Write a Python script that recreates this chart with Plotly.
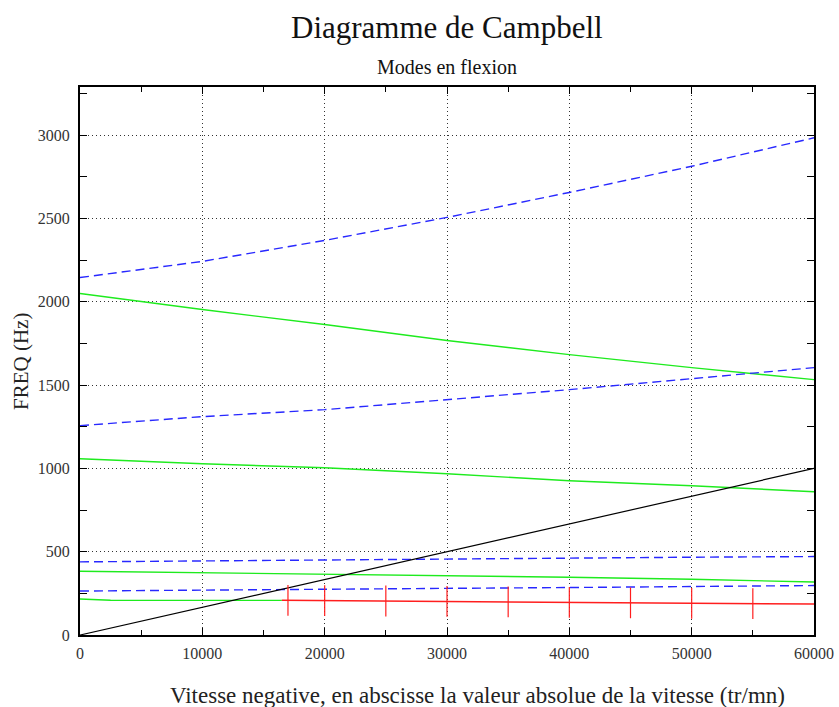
import plotly.graph_objects as go

speed = [0, 10000, 20000, 30000, 40000, 50000, 60000]
blue_mode4 = [2146, 2243, 2369, 2507, 2657, 2814, 2985]
green_mode4 = [2050, 1954, 1864, 1768, 1683, 1605, 1533]
blue_mode3 = [1257, 1311, 1353, 1413, 1473, 1539, 1605]
green_mode3 = [1058, 1028, 1004, 968, 926, 896, 860]
blue_mode2 = [439, 445, 452, 458, 462, 467, 471]
green_mode2 = [383, 375, 366, 358, 347, 335, 318]
blue_mode1 = [264, 268, 274, 280, 285, 290, 297]
excitation = [0, 167, 333, 500, 667, 833, 1000]

green_mode1_speed = [0, 2500, 10000, 16500]
green_mode1 = [216, 209, 208, 208]
red_speed = [16500, 20000, 25000, 30000, 35000, 40000, 45000, 50000, 55000, 60000]
red_mode1 = [208, 206, 204, 202, 199, 196, 193, 190, 188, 186]
marker_speed = [17000, 20000, 25000, 30000, 35000, 40000, 45000, 50000, 55000]
marker_freq = [208, 206, 204, 202, 199, 196, 193, 190, 188]

x_ticks = [0, 10000, 20000, 30000, 40000, 50000, 60000]
y_ticks = [0, 500, 1000, 1500, 2000, 2500, 3000]

BLUE = "rgb(40,40,255)"
GREEN = "rgb(30,235,30)"
RED = "rgb(255,30,30)"
DASH = "9px,5px"

fig = go.Figure()

def add(x, y, color, dash=None, width=1.4):
    fig.add_trace(go.Scatter(x=x, y=y, mode="lines",
                             line=dict(color=color, width=width, dash=dash),
                             showlegend=False, hoverinfo="skip"))

add(speed, blue_mode4, BLUE, DASH)
add(speed, green_mode4, GREEN)
add(speed, blue_mode3, BLUE, DASH)
add(speed, green_mode3, GREEN)
add(speed, blue_mode2, BLUE, DASH)
add(speed, green_mode2, GREEN)
add(speed, blue_mode1, BLUE, DASH)
add(green_mode1_speed, green_mode1, GREEN)
add(speed, excitation, "black", None, 1.2)
add(red_speed, red_mode1, RED, None, 1.5)
fig.add_trace(go.Scatter(x=marker_speed, y=marker_freq, mode="markers",
                         marker=dict(symbol="line-ns", size=22,
                                     line=dict(color=RED, width=1.2)),
                         showlegend=False, hoverinfo="skip"))

font = "Liberation Serif, Times New Roman, serif"

fig.update_layout(
    width=839, height=707,
    margin=dict(l=80, r=25, t=87, b=72),
    paper_bgcolor="white", plot_bgcolor="white",
    font=dict(family=font, color="#222"),
    xaxis=dict(range=[0, 60000], tickvals=x_ticks, ticktext=[str(v) for v in x_ticks],
               automargin=False,
               showgrid=True, gridcolor="#333", griddash="1px,3px", gridwidth=1,
               zeroline=False, showline=True, linecolor="black", linewidth=2,
               mirror="allticks", ticks="inside", ticklen=7, tickcolor="black",
               minor=dict(dtick=5000, ticks="inside", ticklen=5, tickcolor="black", showgrid=False),
               tickfont=dict(size=16, family=font, color="#333"), ticklabelstandoff=3),
    yaxis=dict(range=[0, 3290], tickvals=y_ticks, ticktext=[str(v) for v in y_ticks],
               automargin=False,
               showgrid=True, gridcolor="#333", griddash="1px,3px", gridwidth=1,
               zeroline=False, showline=True, linecolor="black", linewidth=2,
               mirror="allticks", ticks="inside", ticklen=7, tickcolor="black",
               minor=dict(dtick=250, ticks="inside", ticklen=7, tickcolor="black", showgrid=False),
               tickfont=dict(size=16, family=font, color="#333"), ticklabelstandoff=5),
    annotations=[
        dict(text="Diagramme de Campbell", x=0.5, y=1.1077, xref="paper", yref="paper",
             xanchor="center", yanchor="middle", showarrow=False,
             font=dict(size=31, family=font, color="#111")),
        dict(text="Modes en flexion", x=0.5, y=1.0365, xref="paper", yref="paper",
             xanchor="center", yanchor="middle", showarrow=False,
             font=dict(size=20, family=font, color="#111")),
        dict(text="Vitesse negative, en abscisse la valeur absolue de la vitesse (tr/mn)",
             x=0.542, y=-0.1095, xref="paper", yref="paper",
             xanchor="center", yanchor="middle", showarrow=False,
             font=dict(size=23, family=font, color="#222")),
        dict(text="FREQ (Hz)", x=-0.0804, y=0.5, xref="paper", yref="paper",
             xanchor="center", yanchor="middle", showarrow=False, textangle=-90,
             font=dict(size=21, family=font, color="#222")),
    ],
)

fig.write_html("out.html")
